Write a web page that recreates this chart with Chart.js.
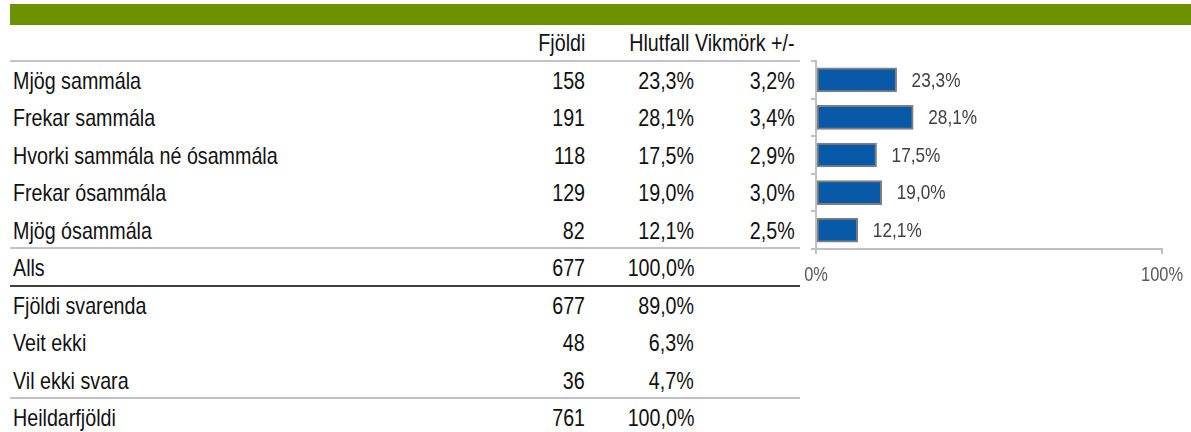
<!DOCTYPE html>
<html>
<head>
<meta charset="utf-8">
<script src="https://cdn.jsdelivr.net/npm/chart.js@4"></script>
<style>
    body { margin: 0; background: #fff; width: 1191px; height: 432px; overflow: hidden; position: relative; }
    .topbar { position: absolute; left: 10px; top: 4px; width: 1181px; height: 21px; background: #6e9102; }
    #table { position: absolute; left: 10px; top: 24px; width: 790px; font-family: "Liberation Sans", Arial, sans-serif; font-size: 24px; color: #111; }
    .row { position: relative; height: 37.5px; line-height: 37.5px; box-sizing: border-box; }
    .row span { position: absolute; top: 0; white-space: nowrap; transform: scaleX(0.82); }
    .row .lbl { left: 3px; transform-origin: left center; }
    .row .c1 { right: 215px; transform-origin: right center; }
    .row .c2 { right: 106px; transform-origin: right center; }
    .row .c3 { right: 5px; transform-origin: right center; }
    .gray { border-bottom: 2px solid #c3c3c3; }
    .dark { border-bottom: 2px solid #404040; }
    #chartBox { position: absolute; left: 800px; top: 40px; width: 391px; height: 260px; }
</style>
</head>
<body>
<div class="topbar"></div>
<div id="table"></div>
<div id="chartBox"><canvas id="bars" width="391" height="260"></canvas></div>
<script>
    const headers = ['Fjöldi', 'Hlutfall', 'Vikmörk +/-'];

    const answerLabels = ['Mjög sammála', 'Frekar sammála', 'Hvorki sammála né ósammála', 'Frekar ósammála', 'Mjög ósammála'];
    const answerCounts = [158, 191, 118, 129, 82];
    const answerShares = [23.3, 28.1, 17.5, 19.0, 12.1];
    const answerMargins = [3.2, 3.4, 2.9, 3.0, 2.5];

    const totalLabel = 'Alls';
    const totalCount = 677;
    const totalShare = 100.0;

    const extraLabels = ['Fjöldi svarenda', 'Veit ekki', 'Vil ekki svara', 'Heildarfjöldi'];
    const extraCounts = [677, 48, 36, 761];
    const extraShares = [89.0, 6.3, 4.7, 100.0];

    const axisTicks = [0, 100];

    const pct = v => v.toFixed(1).replace('.', ',') + '%';

    // table
    const table = document.getElementById('table');
    const addRow = (cells, cls) => {
        const row = document.createElement('div');
        row.className = 'row ' + (cls || '');
        ['lbl', 'c1', 'c2', 'c3'].forEach((c, i) => {
            if (cells[i] === undefined || cells[i] === '') return;
            const s = document.createElement('span');
            s.className = c;
            s.textContent = cells[i];
            row.appendChild(s);
        });
        table.appendChild(row);
    };

    addRow(['', headers[0], '', headers[1] + ' ' + headers[2]], 'gray');

    answerLabels.forEach((lbl, i) => {
        addRow([lbl, answerCounts[i], pct(answerShares[i]), pct(answerMargins[i])],
            i === answerLabels.length - 1 ? 'gray' : '');
    });
    addRow([totalLabel, totalCount, pct(totalShare)], 'dark');
    extraLabels.forEach((lbl, i) => {
        addRow([lbl, extraCounts[i], pct(extraShares[i])], i === extraLabels.length - 2 ? 'gray' : '');
    });

    // chart
    const labelFont = '"Liberation Sans", Arial, sans-serif';
    const narrow = 0.82;

    // narrow text: no condensed face installed, so squeeze a normal one
    const drawNarrow = (c, text, x, y, align) => {
        c.save();
        c.translate(x, y);
        c.scale(narrow, 1);
        c.textAlign = align;
        c.fillText(text, 0, 0);
        c.restore();
    };

    const narrowLabels = {
        id: 'narrowLabels',
        afterDatasetsDraw(chart) {
            const c = chart.ctx;
            c.save();
            c.textBaseline = 'middle';

            c.font = '21px ' + labelFont;
            c.fillStyle = '#404040';
            chart.getDatasetMeta(0).data.forEach((bar, i) => {
                drawNarrow(c, pct(answerShares[i]), bar.x + 15, bar.y + 1, 'left');
            });

            const xs = chart.scales.x;
            c.font = '20px ' + labelFont;
            c.fillStyle = '#595959';
            xs.ticks.forEach(t => {
                drawNarrow(c, t.value + '%', xs.getPixelForValue(t.value), xs.top + 26, 'center');
            });
            c.restore();
        }
    };

    new Chart(document.getElementById('bars').getContext('2d'), {
        type: 'bar',
        data: {
            labels: answerLabels,
            datasets: [{
                data: answerShares,
                backgroundColor: '#0859a8',
                borderColor: '#7f7f7f',
                borderWidth: 2,
                borderSkipped: false,
                barThickness: 24
            }]
        },
        options: {
            indexAxis: 'y',
            responsive: false,
            animation: false,
            layout: { padding: { left: 11, right: 29, top: 21, bottom: 46 } },
            plugins: {
                legend: { display: false },
                tooltip: { enabled: false }
            },
            scales: {
                x: {
                    min: 0,
                    max: 100,
                    afterBuildTicks: s => { s.ticks = axisTicks.map(v => ({ value: v })); },
                    grid: { drawOnChartArea: false, color: '#c0c0c0', tickLength: 5, lineWidth: 2 },
                    border: { color: '#c0c0c0', width: 2 },
                    ticks: { display: false }
                },
                y: {
                    grid: { drawOnChartArea: false, offset: true, color: '#c0c0c0', tickLength: 5, lineWidth: 2 },
                    border: { color: '#c0c0c0', width: 2 },
                    ticks: { display: false }
                }
            }
        },
        plugins: [narrowLabels]
    });
</script>
</body>
</html>
